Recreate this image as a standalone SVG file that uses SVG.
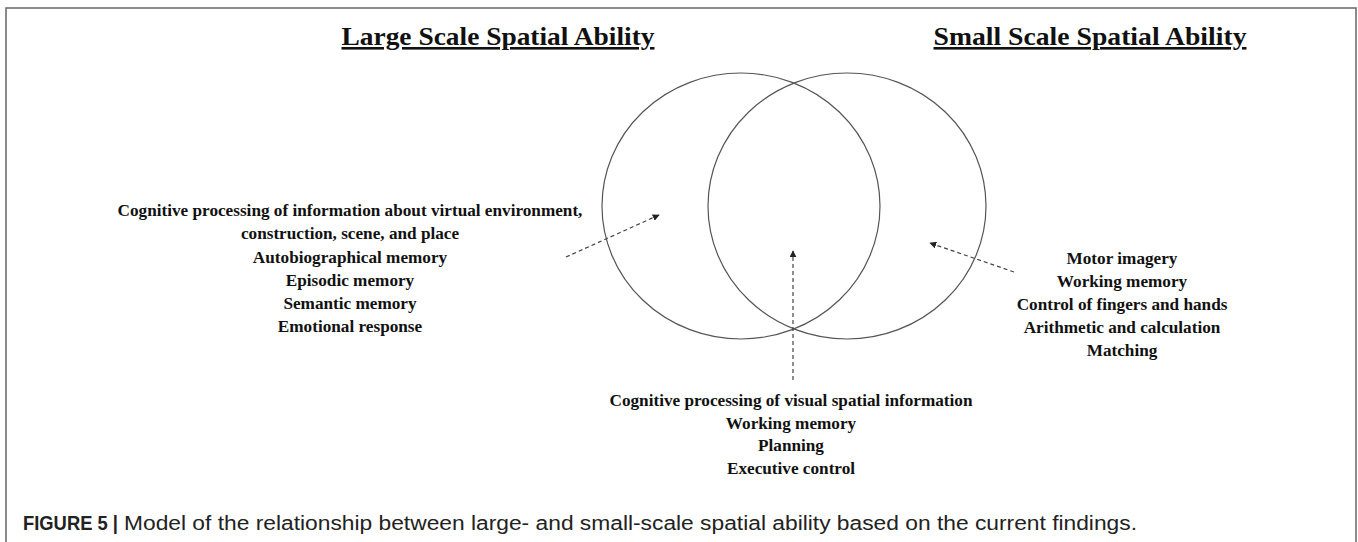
<svg xmlns="http://www.w3.org/2000/svg" width="1358" height="542" viewBox="0 0 1358 542">
<style>
.t{font-family:"Liberation Serif","Times New Roman",serif;font-weight:bold;fill:#111;text-anchor:middle}
.h{font-size:26px;text-decoration:underline}
.b{font-size:17.2px}
.c{stroke:#555;stroke-width:1.2;fill:none}
.d{stroke:#444;stroke-width:1.2;stroke-dasharray:4 3;fill:none}
.cap{font-family:"Liberation Sans",Arial,sans-serif;font-size:19.5px;fill:#222}
</style>
<defs>
<marker id="ah" viewBox="0 0 10 10" refX="9" refY="5" markerWidth="7" markerHeight="7" orient="auto" markerUnits="userSpaceOnUse">
<path d="M0,0 L10,5 L0,10 z" fill="#222"/>
</marker>
</defs>
<rect width="1358" height="542" fill="#fff"/>
<path d="M6,542 V8 H1356 V542" fill="none" stroke="#666" stroke-width="1.5"/>
<g id="title-large"><text class="t h" x="498" y="45" textLength="313" lengthAdjust="spacingAndGlyphs">Large Scale Spatial Ability</text></g>
<g id="title-small"><text class="t h" x="1090" y="45" textLength="313" lengthAdjust="spacingAndGlyphs">Small Scale Spatial Ability</text></g>
<g id="circle-large"><ellipse class="c" cx="741" cy="206" rx="139" ry="133"/></g>
<g id="circle-small"><ellipse class="c" cx="847" cy="206" rx="139" ry="133"/></g>
<g id="connectors">
<line class="d" x1="566" y1="257" x2="659" y2="215" marker-end="url(#ah)"/>
<line class="d" x1="1014" y1="272" x2="930" y2="243" marker-end="url(#ah)"/>
<line class="d" x1="793" y1="380" x2="793" y2="251" marker-end="url(#ah)"/>
</g>
<g id="large-text" class="t b">
<text x="350" y="216">Cognitive processing of information  about virtual environment,</text>
<text x="350" y="239">construction, scene, and place</text>
<text x="350" y="263">Autobiographical memory</text>
<text x="350" y="286">Episodic memory</text>
<text x="350" y="309">Semantic memory</text>
<text x="350" y="332">Emotional response</text>
</g>
<g id="small-text" class="t b">
<text x="1122" y="264">Motor imagery</text>
<text x="1122" y="287">Working memory</text>
<text x="1122" y="310">Control of fingers and hands</text>
<text x="1122" y="333">Arithmetic and calculation</text>
<text x="1122" y="356">Matching</text>
</g>
<g id="shared-text" class="t b">
<text x="791" y="406">Cognitive processing of visual spatial information</text>
<text x="791" y="429">Working memory</text>
<text x="791" y="451">Planning</text>
<text x="791" y="474">Executive control</text>
</g>
<text class="cap" x="23" y="530" font-weight="bold" textLength="95" lengthAdjust="spacingAndGlyphs">FIGURE 5 |</text>
<text class="cap" x="124" y="530" textLength="1013" lengthAdjust="spacingAndGlyphs">Model of the relationship between large- and small-scale spatial ability based on the current findings.</text>
</svg>
